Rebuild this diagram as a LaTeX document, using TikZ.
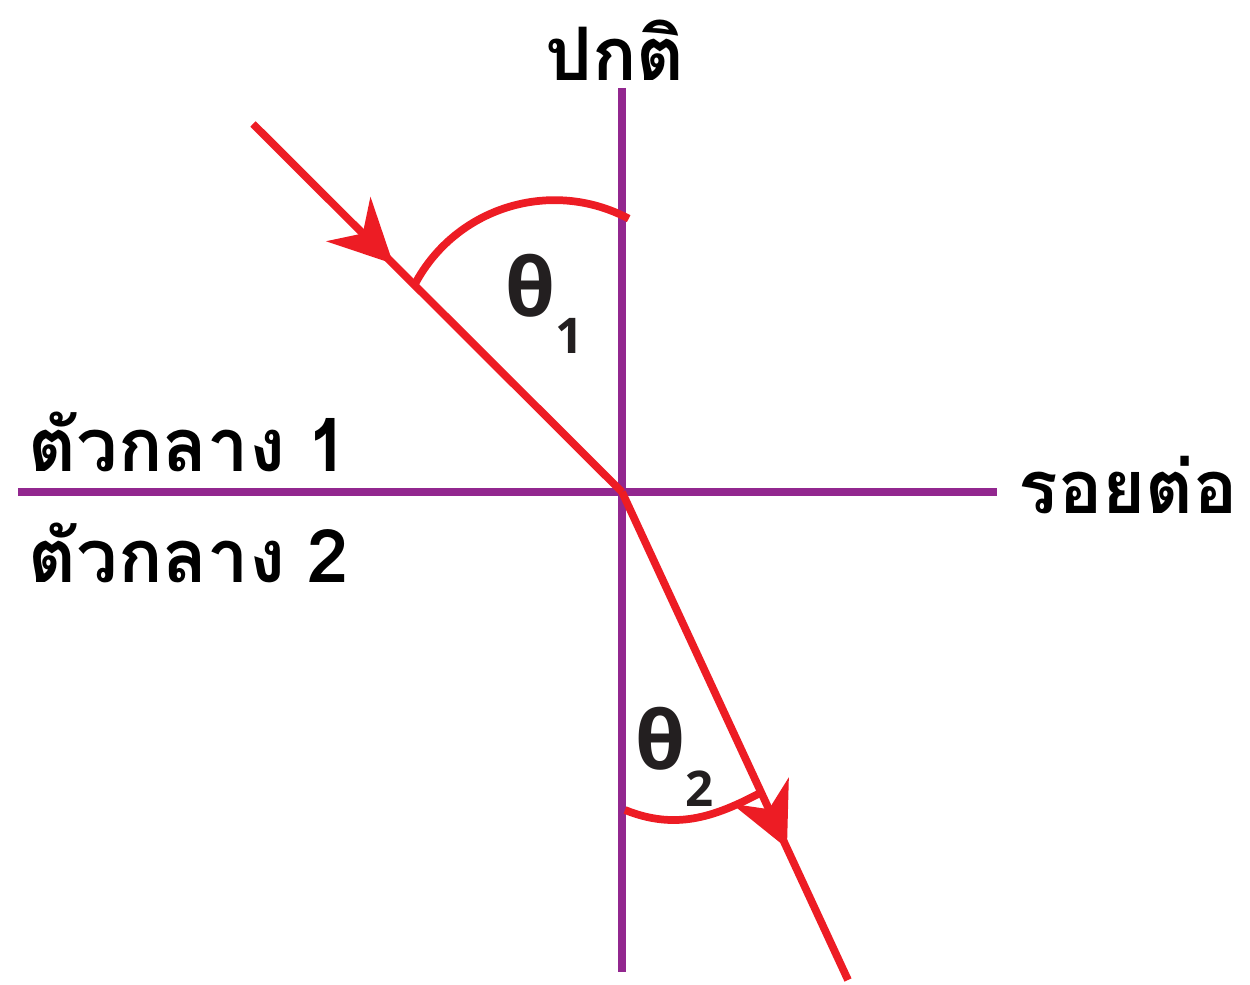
\documentclass[tikz,border=0pt]{standalone}
\usepackage{fontspec}
\setmainfont{Open Sans}
\newfontfamily\thaifont[Script=Thai]{Loma}
\usetikzlibrary{arrows.meta,decorations.markings}

\definecolor{rayred}{HTML}{ED1C24}
\definecolor{linepurple}{HTML}{92278F}
\definecolor{textgray}{HTML}{231F20}

\begin{document}
\begin{tikzpicture}[
    axis/.style={
        draw=linepurple,
        line width=2.3pt
    },
    ray/.style={
        draw=rayred,
        line width=2.2pt
    },
    arrowmark/.style={
        postaction={decorate},
        decoration={markings,
            mark=at position #1 with {\arrow[rayred]{Stealth[length=6.3mm,width=6.2mm,inset=2mm]}}}
    },
    thailabel/.style={
        font=\thaifont\bfseries\fontsize{21}{24}\selectfont,
        text=black,
        inner sep=0pt
    },
    anglelabel/.style={
        font=\bfseries\fontsize{23}{26}\selectfont,
        text=textgray,
        inner sep=0pt
    }
]
\useasboundingbox (0,0) rectangle (12.5,9.84);

% Normal and boundary
\coordinate (O) at (6.22,4.92);
\coordinate (NT) at (6.22,8.96);
\coordinate (NB) at (6.22,0.12);
\coordinate (BL) at (0.18,4.92);
\coordinate (BR) at (9.97,4.92);
\draw[axis] (NT) -- (NB);
\draw[axis] (BL) -- (BR);

% Incident and refracted rays
\coordinate (S) at (2.53,8.60);
\coordinate (E) at (8.48,0.04);
\draw[ray, arrowmark=0.38] (S) -- (O);
\draw[ray, arrowmark=0.73] (O) -- (E);

% Angle arcs
\coordinate (A1) at (4.15,7.00);
\coordinate (A2) at (6.25,1.74);
\coordinate (B2) at (7.60,1.91);
\draw[ray] (A1) arc[start angle=152,end angle=62,radius=1.58];
\draw[ray] (A2) to[out=-22,in=208] (B2);

% Angle labels
\node[anglelabel] (T1) at (5.45,6.80) {θ\raisebox{-0.45em}{\fontsize{14}{16}\selectfont 1}};
\node[anglelabel] (T2) at (6.75,2.27) {θ\raisebox{-0.45em}{\fontsize{14}{16}\selectfont 2}};

% Text labels
\node[thailabel] (normal) at (6.15,9.34) {ปกติ};
\node[thailabel, anchor=west] (bound) at (10.18,4.99) {รอยต่อ};
\node[thailabel, anchor=west] (med1) at (0.28,5.42) {ตัวกลาง\hspace{0.3em}1};
\node[thailabel, anchor=west] (med2) at (0.28,4.31) {ตัวกลาง\hspace{0.3em}2};

\end{tikzpicture}
\end{document}
